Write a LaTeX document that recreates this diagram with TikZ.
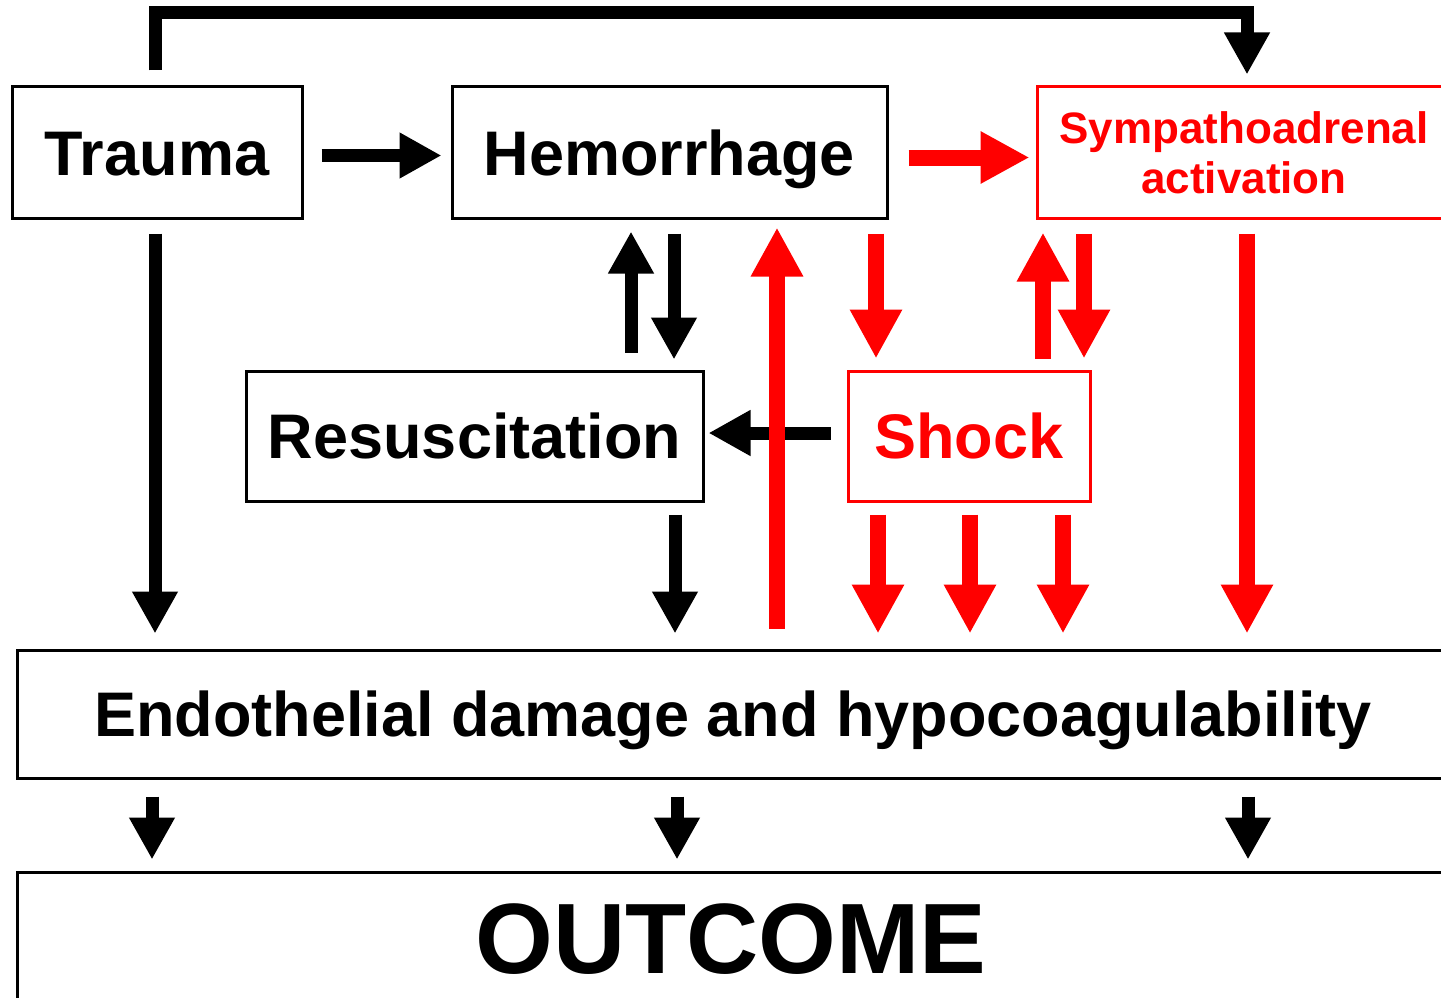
\documentclass[tikz,border=0pt]{standalone}
\usepackage{fontspec}
\setmainfont{Liberation Sans}
\usetikzlibrary{arrows.meta,calc}
\begin{document}
\begin{tikzpicture}[x=1pt,y=-1pt,
  box/.style={rectangle, draw=black, line width=3pt, inner sep=0pt,
    font=\bfseries\fontsize{63}{70}\selectfont, text height=45pt, text depth=0pt},
  redbox/.style={box, draw=red, text=red},
  blk/.style={draw=black, line width=13pt, line join=miter, shorten >=-3pt,
    -{Triangle[length=42pt,width=43pt]}},
  rd/.style={draw=red, line width=16pt, shorten >=-3pt,
    -{Triangle[length=49pt,width=49pt]}}]
\useasboundingbox (0,0) rectangle (1441,998);
\fill[white] (0,0) rectangle (1441,998);
\clip (0,0) rectangle (1441,998);

% boxes
\node[box, minimum width=290pt, minimum height=131pt] (trauma) at (157,152.5) {Trauma};
\node[box, minimum width=435pt, minimum height=131pt] (hem) at (669.5,152.5) {Hemorrhage};
\node[redbox, minimum width=414pt, minimum height=131pt, align=center,
      font=\bfseries\fontsize{44}{50}\selectfont, text height=, text depth=] (symp) at (1244,152.5)
      {Sympathoadrenal\\activation};
\node[box, minimum width=457pt, minimum height=130pt] (resus) at (474.5,436) {Resuscitation};
\node[redbox, minimum width=242pt, minimum height=130pt] (shock) at (969,436) {Shock};
\node[box, minimum width=1432pt, minimum height=128pt] (endo) at (733,714)
      {Endothelial damage and hypocoagulability};
\node[box, minimum width=1428pt, minimum height=130pt,
      font=\bfseries\fontsize{100}{110}\selectfont, text height=72pt] (outcome) at (731,937) {OUTCOME};

% black connectors
\draw[blk] ([shift={(-2,-15)}]trauma.north) -- ++(0,-58) -| ([shift={(3,-14)}]symp.north);
\draw[blk] ([shift={(18,3)}]trauma.east) -- ([shift={(-12,3)}]hem.west);
\draw[blk] ($(trauma.south)+(-2,14)$) -- ($(trauma.south |- endo.north)+(-2,-18)$);
\draw[blk] ($(resus.north)+(156.5,-17)$) -- ($(hem.south)+(-38.5,15)$);
\draw[blk] ($(hem.south)+(4.5,14)$) -- ($(resus.north)+(199.5,-13)$);
\draw[blk] ($(shock.west)+(-16,-3)$) -- ($(resus.east)+(7,-3)$);
\draw[blk] ($(resus.south)+(200.5,12)$) -- ($(endo.north)+(-58,-18)$);
\draw[blk] ($(endo.south)+(-581,17)$) -- ($(outcome.north)+(-579,-14)$);
\draw[blk] ($(endo.south)+(-56,17)$) -- ($(outcome.north)+(-54,-14)$);
\draw[blk] ($(endo.south)+(515,17)$) -- ($(outcome.north)+(517,-14)$);

% red connectors
\draw[rd] ([shift={(20,5)}]hem.east) -- ([shift={(-9,5)}]symp.west);
\draw[rd] ($(endo.north)+(44,-20)$) -- ($(hem.south)+(107.5,11)$);
\draw[rd] ($(hem.south)+(206.5,14)$) -- ($(shock.north)+(-93,-14)$);
\draw[rd] ($(shock.north)+(74,-11)$) -- ($(symp.south)+(-201,16)$);
\draw[rd] ($(symp.south)+(-160,14)$) -- ($(shock.north)+(115,-14)$);
\draw[rd] ($(shock.south)+(-91,12)$) -- ($(endo.north)+(145,-18)$);
\draw[rd] ($(shock.south)+(1,12)$) -- ($(endo.north)+(237,-18)$);
\draw[rd] ($(shock.south)+(94,12)$) -- ($(endo.north)+(330,-18)$);
\draw[rd] ($(symp.south)+(3,14)$) -- ($(endo.north)+(514,-18)$);
\end{tikzpicture}
\end{document}
